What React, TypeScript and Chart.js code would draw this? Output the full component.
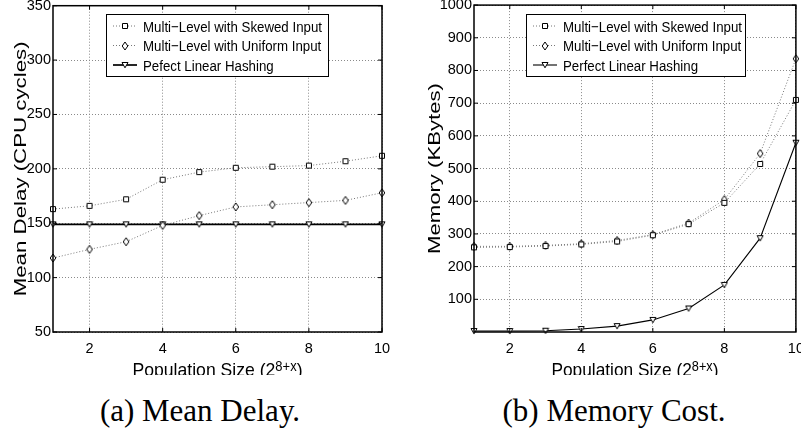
import React, { useEffect, useRef } from 'react';
import { Chart, registerables } from 'chart.js';

Chart.register(...registerables);

// ---------------- data ----------------
const xValues = [1, 2, 3, 4, 5, 6, 7, 8, 9, 10];
const xTickValues = [2, 4, 6, 8, 10];

const delaySkewed = [163, 166, 172, 190, 197, 201, 202, 203, 207, 212];
const delayUniform = [118, 126, 133, 148, 157, 165, 167, 169, 171, 178];
const delayPerfect = [149, 149, 149, 149, 149, 149, 149, 149, 149, 149];
const delayTicks = [50, 100, 150, 200, 250, 300, 350];

const memSkewed = [259, 260, 263, 268, 277, 296, 330, 395, 514, 710];
const memUniform = [262, 262, 265, 270, 280, 298, 333, 405, 546, 836];
const memPerfect = [3, 3, 4, 9, 18, 37, 72, 144, 287, 579];
const memTicks = [100, 200, 300, 400, 500, 600, 700, 800, 900, 1000];

const leftLegendLabels = [
  'Multi\u2212Level with Skewed Input',
  'Multi\u2212Level with Uniform Input',
  'Pefect Linear Hashing',
];
const rightLegendLabels = [
  'Multi\u2212Level with Skewed Input',
  'Multi\u2212Level with Uniform Input',
  'Perfect Linear Hashing',
];

const SANS = "'Liberation Sans', Arial, Helvetica, sans-serif";
const TICK_FONT = "'Liberation Sans Narrow', 'Liberation Sans', Arial, sans-serif";

// ---------------- markers ----------------
function makeMarker(kind: 'square' | 'diamond' | 'triangle'): HTMLCanvasElement {
  const c = document.createElement('canvas');
  if (kind === 'square') {
    c.width = 8; c.height = 8;
  } else if (kind === 'diamond') {
    c.width = 8; c.height = 10;
  } else {
    c.width = 8; c.height = 8;
  }
  const ctx = c.getContext('2d') as CanvasRenderingContext2D;
  ctx.fillStyle = '#fff';
  ctx.strokeStyle = '#000';
  ctx.lineWidth = 1;
  ctx.beginPath();
  if (kind === 'square') {
    ctx.rect(1.5, 1.5, 5, 5);
  } else if (kind === 'diamond') {
    ctx.moveTo(4, 1); ctx.lineTo(6.8, 5); ctx.lineTo(4, 9); ctx.lineTo(1.2, 5); ctx.closePath();
  } else {
    ctx.moveTo(1, 1.5); ctx.lineTo(7, 1.5); ctx.lineTo(4, 6.8); ctx.closePath();
  }
  ctx.fill();
  ctx.stroke();
  return c;
}

type PanelCfg = {
  skewed: number[];
  uniform: number[];
  perfect: number[];
  perfectWidth: number;
  yTicks: number[];
  yMin: number;
  yMax: number;
  yWidth: number;
  padRight: number;
  yTitle: string;
  yTitleLen: number;
  yTitleBaseX: number;
  xTitleWidth: number;
  legendBox: { x: number; y: number; w: number; h: number };
  legendLabels: string[];
};

function panelPlugin(cfg: PanelCfg) {
  return {
    id: 'panelDeco',
    afterDatasetsDraw(chart: any) {
      const ctx: CanvasRenderingContext2D = chart.ctx;
      const a = chart.chartArea;
      const xs = chart.scales.x;
      const ys = chart.scales.y;
      ctx.save();
      // inward tick marks
      ctx.strokeStyle = '#000';
      ctx.lineWidth = 1;
      ctx.beginPath();
      ys.ticks.forEach((t: any) => {
        const y = ys.getPixelForValue(t.value);
        ctx.moveTo(a.left, y); ctx.lineTo(a.left + 4, y);
        ctx.moveTo(a.right, y); ctx.lineTo(a.right - 4, y);
      });
      xs.ticks.forEach((t: any) => {
        const x = xs.getPixelForValue(t.value);
        ctx.moveTo(x, a.bottom); ctx.lineTo(x, a.bottom - 4);
        ctx.moveTo(x, a.top); ctx.lineTo(x, a.top + 4);
      });
      ctx.stroke();
      // axes box
      ctx.lineWidth = 1.5;
      ctx.strokeRect(a.left, a.top, a.right - a.left, a.bottom - a.top);

      // legend
      const b = cfg.legendBox;
      ctx.fillStyle = '#fff';
      ctx.fillRect(b.x, b.y, b.w, b.h);
      ctx.lineWidth = 1;
      ctx.strokeStyle = '#000';
      ctx.strokeRect(b.x + 0.5, b.y + 0.5, b.w, b.h);
      chart.data.datasets.forEach((ds: any, i: number) => {
        const base = b.y + 17.5 + i * 19.5;
        const cy = base - 5.5;
        ctx.save();
        ctx.strokeStyle = ds.borderColor;
        ctx.lineWidth = ds.borderWidth;
        ctx.setLineDash(ds.borderDash || []);
        ctx.beginPath();
        ctx.moveTo(b.x + 7, cy);
        ctx.lineTo(b.x + 31, cy);
        ctx.stroke();
        ctx.restore();
        const img: HTMLCanvasElement = ds.pointStyle;
        ctx.drawImage(img, Math.round(b.x + 19 - img.width / 2), Math.round(cy - img.height / 2));
        ctx.save();
        ctx.fillStyle = '#000';
        ctx.font = `15.3px ${SANS}`;
        ctx.textBaseline = 'alphabetic';
        ctx.textAlign = 'left';
        ctx.translate(b.x + 37, base);
        ctx.scale(0.868, 1);
        ctx.fillText(cfg.legendLabels[i], 0, 0);
        ctx.restore();
      });
      ctx.restore();
    },
    afterDraw(chart: any) {
      const ctx: CanvasRenderingContext2D = chart.ctx;
      const a = chart.chartArea;
      ctx.save();
      ctx.fillStyle = '#000';
      // y title (rotated)
      ctx.font = `17px ${SANS}`;
      const w = ctx.measureText(cfg.yTitle).width;
      ctx.save();
      ctx.translate(cfg.yTitleBaseX, (a.top + a.bottom) / 2);
      ctx.rotate(-Math.PI / 2);
      ctx.scale(cfg.yTitleLen / w, 1);
      ctx.textAlign = 'center';
      ctx.textBaseline = 'alphabetic';
      ctx.fillText(cfg.yTitle, 0, 0);
      ctx.restore();

      // x title with superscript
      const main = 'Population Size (2';
      const sup = '8+x';
      const close = ')';
      ctx.font = `19px ${SANS}`;
      const w1 = ctx.measureText(main).width;
      const w3 = ctx.measureText(close).width;
      ctx.font = `14px ${SANS}`;
      const w2 = ctx.measureText(sup).width;
      const total = w1 + w2 + w3;
      const s = cfg.xTitleWidth / total;
      ctx.save();
      ctx.translate((a.left + a.right) / 2, 376);
      ctx.scale(s, 1);
      ctx.textAlign = 'left';
      ctx.textBaseline = 'alphabetic';
      let x0 = -total / 2;
      ctx.font = `19px ${SANS}`;
      ctx.fillText(main, x0, 0);
      x0 += w1;
      ctx.font = `14px ${SANS}`;
      ctx.fillText(sup, x0, -5);
      x0 += w2;
      ctx.font = `19px ${SANS}`;
      ctx.fillText(close, x0, 0);
      ctx.restore();
      ctx.restore();
    },
  };
}

function buildConfig(cfg: PanelCfg, markers: HTMLCanvasElement[]): any {
  const mk = (arr: number[]) => xValues.map((x, i) => ({ x, y: arr[i] }));
  const tickFont = { family: TICK_FONT, size: 14.5 };
  const plain = (v: any) => String(v);
  return {
    type: 'line',
    data: {
      datasets: [
        {
          label: cfg.legendLabels[0],
          data: mk(cfg.skewed),
          borderColor: '#777',
          borderWidth: 1,
          borderDash: [1, 2],
          pointStyle: markers[0],
          pointRadius: 3,
          clip: false,
          tension: 0,
        },
        {
          label: cfg.legendLabels[1],
          data: mk(cfg.uniform),
          borderColor: '#777',
          borderWidth: 1,
          borderDash: [1, 2],
          pointStyle: markers[1],
          pointRadius: 3,
          clip: false,
          tension: 0,
        },
        {
          label: cfg.legendLabels[2],
          data: mk(cfg.perfect),
          borderColor: '#000',
          borderWidth: cfg.perfectWidth,
          borderDash: [],
          pointStyle: markers[2],
          pointRadius: 3,
          clip: false,
          tension: 0,
        },
      ],
    },
    options: {
      animation: false,
      responsive: false,
      devicePixelRatio: 1,
      events: [],
      layout: { padding: { top: 5, right: cfg.padRight, left: 0, bottom: 0 } },
      plugins: { legend: { display: false }, tooltip: { enabled: false }, title: { display: false } },
      scales: {
        x: {
          type: 'linear',
          min: 1,
          max: 10,
          afterBuildTicks: (s: any) => {
            s.ticks = xTickValues.map((v) => ({ value: v }));
          },
          afterFit: (s: any) => {
            s.height = 43;
            s.paddingLeft = 0;
            s.paddingRight = 0;
          },
          grid: { color: '#8a8a8a', lineWidth: 1, drawTicks: false },
          border: { display: false, dash: [1, 2] },
          ticks: { font: tickFont, color: '#000', padding: 8, autoSkip: false, maxRotation: 0, callback: plain },
        },
        y: {
          type: 'linear',
          min: cfg.yMin,
          max: cfg.yMax,
          afterBuildTicks: (s: any) => {
            s.ticks = cfg.yTicks.map((v) => ({ value: v }));
          },
          afterFit: (s: any) => {
            s.width = cfg.yWidth;
            s.paddingTop = 0;
            s.paddingBottom = 0;
          },
          grid: { color: '#8a8a8a', lineWidth: 1, drawTicks: false },
          border: { display: false, dash: [1, 2] },
          ticks: { font: tickFont, color: '#000', padding: 2, autoSkip: false, callback: plain },
        },
      },
    },
    plugins: [panelPlugin(cfg)],
  };
}

const leftCfg: PanelCfg = {
  skewed: delaySkewed,
  uniform: delayUniform,
  perfect: delayPerfect,
  perfectWidth: 1.7,
  yTicks: delayTicks,
  yMin: 50,
  yMax: 350,
  yWidth: 53,
  padRight: 18,
  yTitle: 'Mean Delay (CPU cycles)',
  yTitleLen: 255,
  yTitleBaseX: 25.5,
  xTitleWidth: 170,
  legendBox: { x: 106, y: 14, w: 222, h: 62 },
  legendLabels: leftLegendLabels,
};

const rightCfg: PanelCfg = {
  skewed: memSkewed,
  uniform: memUniform,
  perfect: memPerfect,
  perfectWidth: 1.1,
  yTicks: memTicks,
  yMin: 0,
  yMax: 1000,
  yWidth: 74,
  padRight: 4,
  yTitle: 'Memory (KBytes)',
  yTitleLen: 171,
  yTitleBaseX: 40.2,
  xTitleWidth: 167,
  legendBox: { x: 126, y: 14, w: 219, h: 62 },
  legendLabels: rightLegendLabels,
};

function Panel({ cfg, left, width }: { cfg: PanelCfg; left: number; width: number }) {
  const ref = useRef<HTMLCanvasElement | null>(null);
  useEffect(() => {
    if (!ref.current) return;
    const markers = [makeMarker('square'), makeMarker('diamond'), makeMarker('triangle')];
    const chart = new Chart(ref.current, buildConfig(cfg, markers));
    return () => chart.destroy();
  }, [cfg]);
  return (
    <canvas
      ref={ref}
      width={width}
      height={375}
      style={{ position: 'absolute', left, top: 0, width, height: 375 }}
    />
  );
}

export default function App() {
  const caption: React.CSSProperties = {
    position: 'absolute',
    top: 395,
    width: 400,
    textAlign: 'center',
    fontFamily: "'Liberation Serif', 'Times New Roman', serif",
    fontSize: 31,
    lineHeight: '31px',
    color: '#000',
    whiteSpace: 'nowrap',
  };
  return (
    <div style={{ position: 'absolute', left: 0, top: 0, width: 801, height: 434, background: '#fff', overflow: 'hidden' }}>
      <Panel cfg={leftCfg} left={0} width={400} />
      <Panel cfg={rightCfg} left={400} width={401} />
      <div style={{ ...caption, left: 0 }}>(a) Mean Delay.</div>
      <div style={{ ...caption, left: 414 }}>(b) Memory Cost.</div>
    </div>
  );
}
